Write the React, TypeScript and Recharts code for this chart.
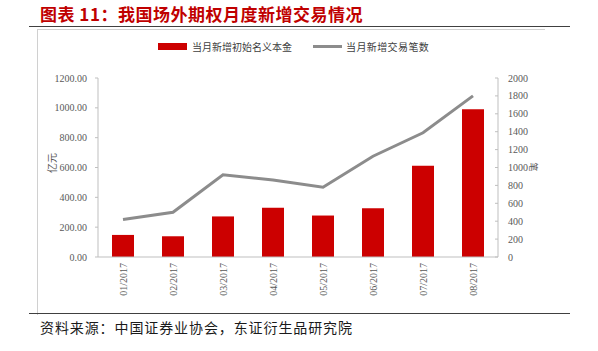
import React from 'react';
import { Bar, ComposedChart, Line, XAxis, YAxis } from 'recharts';

const months = ['01/2017', '02/2017', '03/2017', '04/2017', '05/2017', '06/2017', '07/2017', '08/2017'];
const notional = [148, 139, 272, 331, 278, 326, 612, 990];
const tradeCount = [418, 500, 918, 860, 780, 1126, 1388, 1800];
const leftTicks = [0, 200, 400, 600, 800, 1000, 1200];
const rightTicks = [0, 200, 400, 600, 800, 1000, 1200, 1400, 1600, 1800, 2000];
const boundaryTicks = [0, 1, 2, 3, 4, 5, 6, 7, 8];

const data = months.map((m, i) => ({ month: m, notional: notional[i], count: tradeCount[i] }));

const CJK = '"Noto Sans CJK SC", sans-serif';
const SERIF = '"Liberation Serif", serif';
const AXIS = '#bfbfbf';
const TICK_TEXT = '#595959';

const MonthTick = (props: any) => {
    const { x, y, payload } = props;
    return (
        <text
            x={x}
            y={y}
            transform={`rotate(-90, ${x}, ${y})`}
            textAnchor="end"
            dominantBaseline="central"
            fontSize={10}
            fontFamily={SERIF}
            fill={TICK_TEXT}
        >
            {payload.value}
        </text>
    );
};

export default function App() {
    return (
        <div style={{ position: 'absolute', left: 0, top: 0, width: 598, height: 351, background: '#fff' }}>
            <div
                style={{
                    position: 'absolute',
                    left: 40,
                    top: 3,
                    fontFamily: CJK,
                    fontWeight: 700,
                    fontSize: 17,
                    letterSpacing: 0.5,
                    color: '#c00000',
                    whiteSpace: 'nowrap',
                    lineHeight: '22px'
                }}
            >
                图表 11：我国场外期权月度新增交易情况
            </div>
            <div style={{ position: 'absolute', left: 29, top: 26, width: 541, height: 0, borderTop: '1.5px solid #404040' }} />
            <div style={{ position: 'absolute', left: 37, top: 29, width: 507, height: 285, borderTop: '1px solid #d0d0d0', borderLeft: '1px solid #d0d0d0' }} />
            <div style={{ position: 'absolute', left: 29, top: 313, width: 541, height: 0, borderTop: '1.5px solid #404040' }} />

            <ComposedChart
                width={598}
                height={351}
                data={data}
                margin={{ top: 78, right: 0, bottom: 44, left: 0 }}
                style={{ position: 'absolute', left: 0, top: 0 }}
            >
                <XAxis
                    xAxisId={0}
                    type="number"
                    dataKey="idx"
                    domain={[0, 8]}
                    ticks={boundaryTicks}
                    height={0}
                    axisLine={false}
                    tickLine={{ stroke: AXIS }}
                    tickSize={-3}
                    tickFormatter={() => ''}
                    allowDataOverflow
                />
                <XAxis
                    xAxisId="cat"
                    dataKey="month"
                    height={50}
                    axisLine={{ stroke: AXIS }}
                    tickLine={false}
                    tickSize={0}
                    tickMargin={6}
                    interval={0}
                    tick={<MonthTick />}
                />
                <YAxis
                    yAxisId="left"
                    width={98}
                    domain={[0, 1200]}
                    ticks={leftTicks}
                    tickFormatter={(v: number) => v.toFixed(2)}
                    axisLine={{ stroke: AXIS }}
                    tickLine={{ stroke: AXIS }}
                    tickSize={3}
                    tickMargin={8}
                    tick={{ fontSize: 10, fontFamily: SERIF, fill: TICK_TEXT }}
                />
                <YAxis
                    yAxisId="right"
                    orientation="right"
                    width={100}
                    domain={[0, 2000]}
                    ticks={rightTicks}
                    axisLine={{ stroke: AXIS }}
                    tickLine={{ stroke: AXIS }}
                    tickSize={-3}
                    tickMargin={13}
                    tick={{ fontSize: 10, fontFamily: SERIF, fill: TICK_TEXT, textAnchor: 'start' }}
                />
                <Bar
                    xAxisId="cat"
                    yAxisId="left"
                    dataKey="notional"
                    fill="#cc0000"
                    barSize={22}
                    isAnimationActive={false}
                />
                <Line
                    xAxisId="cat"
                    yAxisId="right"
                    dataKey="count"
                    stroke="#8c8c8c"
                    strokeWidth={3}
                    dot={false}
                    isAnimationActive={false}
                />
            </ComposedChart>

            <div
                style={{
                    position: 'absolute',
                    left: 51,
                    top: 163,
                    transform: 'translate(-50%, -50%) rotate(-90deg)',
                    fontFamily: CJK,
                    fontSize: 10,
                    color: TICK_TEXT,
                    whiteSpace: 'nowrap'
                }}
            >
                亿元
            </div>
            <div
                style={{
                    position: 'absolute',
                    left: 533,
                    top: 167,
                    transform: 'translate(-50%, -50%) rotate(90deg)',
                    fontFamily: CJK,
                    fontSize: 9,
                    color: TICK_TEXT,
                    whiteSpace: 'nowrap'
                }}
            >
                笔
            </div>

            <div style={{ position: 'absolute', left: 158, top: 43, width: 29, height: 7, background: '#cc0000' }} />
            <div
                style={{ position: 'absolute', left: 192, top: 39, fontFamily: CJK, fontSize: 10, lineHeight: '15px', color: '#404040', whiteSpace: 'nowrap' }}
            >
                当月新增初始名义本金
            </div>
            <div style={{ position: 'absolute', left: 313, top: 45, width: 29, height: 3, background: '#8c8c8c' }} />
            <div
                style={{ position: 'absolute', left: 346, top: 39, fontFamily: CJK, fontSize: 10, letterSpacing: 0.4, lineHeight: '15px', color: '#404040', whiteSpace: 'nowrap' }}
            >
                当月新增交易笔数
            </div>

            <div
                style={{ position: 'absolute', left: 40, top: 318, fontFamily: CJK, fontSize: 14, letterSpacing: 0.9, lineHeight: '18px', color: '#1a1a1a', whiteSpace: 'nowrap' }}
            >
                资料来源：中国证券业协会，东证衍生品研究院
            </div>
        </div>
    );
}
